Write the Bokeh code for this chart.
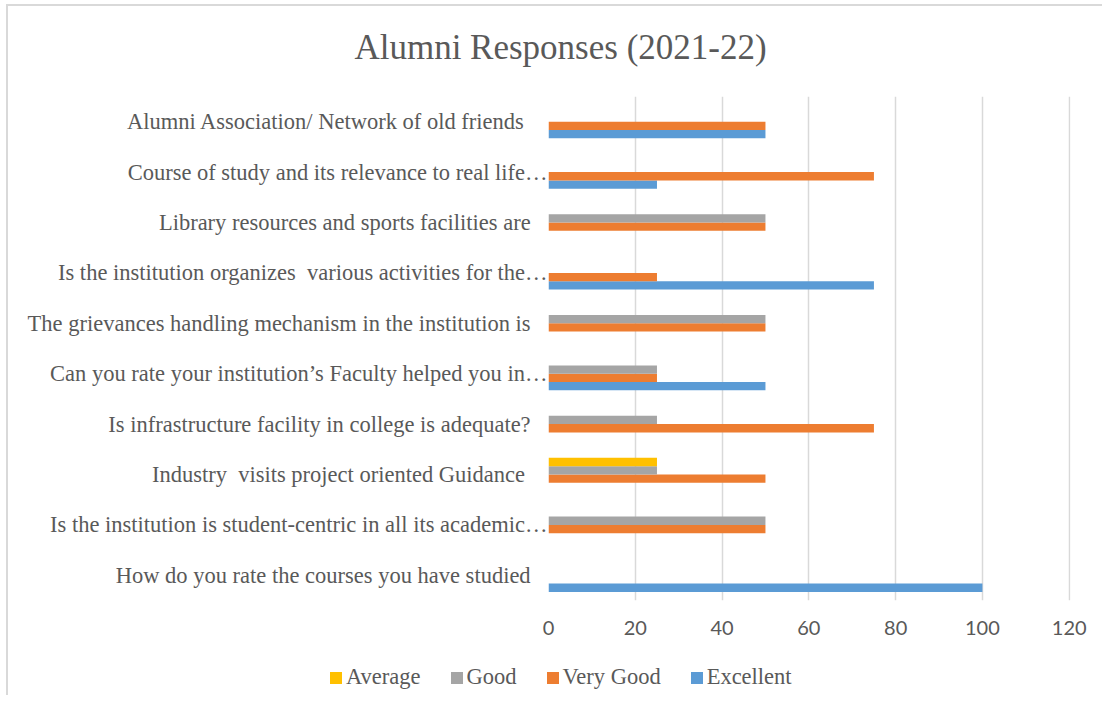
from bokeh.plotting import figure
from bokeh.layouts import column, row
from bokeh.models import (FactorRange, Range1d, Legend, LegendItem, Label,
                          ColumnDataSource, FixedTicker)
from bokeh.transform import dodge
from bokeh.embed import file_html
from bokeh.resources import INLINE

# ---- data (bottom category first) ----
categories = [
    "How do you rate the courses you have studied",
    "Is the institution is student-centric in all its academic\u2026",
    "Industry  visits project oriented Guidance",
    "Is infrastructure facility in college is adequate?",
    "Can you rate your institution\u2019s Faculty helped you in\u2026",
    "The grievances handling mechanism in the institution is",
    "Is the institution organizes  various activities for the\u2026",
    "Library resources and sports facilities are",
    "Course of study and its relevance to real life\u2026",
    "Alumni Association/ Network of old friends",
]
excellent = [100, 0, 0, 0, 50, 0, 75, 0, 25, 50]
very_good = [0, 50, 50, 75, 25, 50, 25, 50, 75, 50]
good = [0, 50, 25, 25, 25, 50, 0, 50, 0, 0]
average = [0, 0, 25, 0, 0, 0, 0, 0, 0, 0]
x_ticks = [0, 20, 40, 60, 80, 100, 120]
x_max = 120
title_text = "Alumni Responses (2021-22)"
# trailing spaces of the original labels
label_trailing = [3, 0, 4, 3, 0, 3, 0, 3, 0, 4]
legend_order = ["Average", "Good", "Very Good", "Excellent"]

# displayed labels keep the double spaces and trailing spaces of the original
display = [c.replace("  ", " \u00a0") + "\u00a0" * n
           for c, n in zip(categories, label_trailing)]

src = ColumnDataSource(dict(cat=display, excellent=excellent,
                            very_good=very_good, good=good, average=average))

TEXT = "#595959"
SERIF = "Liberation Serif"
W = 1094

# ---- title strip ----
tt = figure(width=W, height=90, output_backend="svg", toolbar_location=None,
            x_axis_location=None, y_axis_location=None, title=None,
            min_border=0, min_border_left=0, min_border_right=0,
            min_border_top=0, min_border_bottom=0,
            x_range=Range1d(0, 1), y_range=Range1d(0, 1))
tt.outline_line_color = None
tt.grid.visible = False
tt.add_layout(Label(x=552, y=49, x_units="screen", y_units="screen",
                    text=title_text, text_font=SERIF, text_font_size="35px",
                    text_color=TEXT, text_align="center", text_baseline="middle"))

# ---- main chart ----
p = figure(width=W, height=559,
           y_range=FactorRange(factors=display),
           x_range=Range1d(0, x_max + 0.3),
           title=None,
           output_backend="svg", toolbar_location=None,
           min_border_left=540, min_border_right=32,
           min_border_top=0, min_border_bottom=55)
p.outline_line_color = None
p.background_fill_color = "white"
p.border_fill_color = "white"

bar_h = 0.165
series = [
    ("Excellent", "excellent", "#5B9BD5", -1.5 * bar_h),
    ("Very Good", "very_good", "#ED7D31", -0.5 * bar_h),
    ("Good", "good", "#A5A5A5", 0.5 * bar_h),
    ("Average", "average", "#FFC000", 1.5 * bar_h),
]
colors = {}
for name, key, col, off in series:
    p.hbar(y=dodge("cat", off, range=p.y_range), left=0, right=key,
           height=bar_h, source=src, fill_color=col, line_color=None)
    colors[name] = col

p.xaxis.ticker = FixedTicker(ticks=x_ticks)
p.xaxis.axis_line_color = None
p.xaxis.major_tick_line_color = None
p.xaxis.minor_tick_line_color = None
p.xaxis.major_label_text_font = "Lato"
p.xaxis.major_label_text_font_size = "20px"
p.xaxis.major_label_text_color = TEXT
p.xaxis.major_label_standoff = 14

p.yaxis.axis_line_color = None
p.yaxis.major_tick_line_color = None
p.yaxis.minor_tick_line_color = None
p.yaxis.major_label_text_font = SERIF
p.yaxis.major_label_text_font_size = "22.5px"
p.yaxis.major_label_text_color = TEXT
p.yaxis.major_label_standoff = -5

p.xgrid.grid_line_color = "#d9d9d9"
p.xgrid.grid_line_width = 1.5
p.ygrid.grid_line_color = None

# ---- legend strip (separate figure so it is not clipped by the plot frame) ----
lg = figure(width=W, height=40, output_backend="svg", toolbar_location=None,
            x_axis_location=None, y_axis_location=None, title=None,
            min_border=0, min_border_left=0, min_border_right=0,
            min_border_top=0, min_border_bottom=0,
            x_range=Range1d(0, 1), y_range=Range1d(0, 1))
lg.outline_line_color = None
lg.grid.visible = False
# legend-only renderers: a zero-length bar placed outside the visible range
dummy = ColumnDataSource(dict(y=[-5], right=[0]))
items = []
for name in legend_order:
    r = lg.hbar(y="y", right="right", left=0, height=0.1, source=dummy,
                fill_color=colors[name], line_color=None)
    items.append(LegendItem(label=name, renderers=[r]))
legend = Legend(items=items, orientation="horizontal", location=(320, 5),
                label_text_font=SERIF, label_text_font_size="22.5px",
                label_text_color=TEXT, glyph_width=15, glyph_height=15,
                label_standoff=3, spacing=28, padding=0, margin=0,
                border_line_color=None, background_fill_alpha=0)
lg.add_layout(legend)

layout = column(row(tt), p, row(lg), spacing=0,
                styles={"margin-left": "6px", "margin-top": "4px",
                        "border-left": "2px solid #d9d9d9",
                        "border-top": "2px solid #d9d9d9"})

open("out.html", "w").write(file_html(layout, INLINE))
